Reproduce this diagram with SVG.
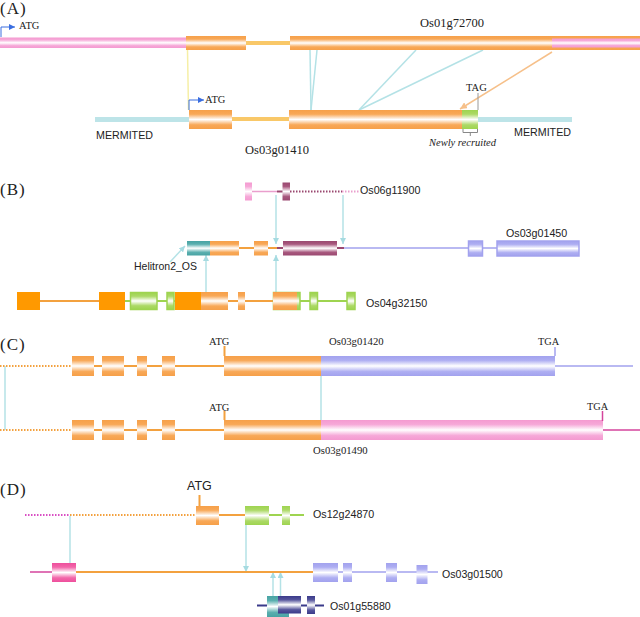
<svg xmlns="http://www.w3.org/2000/svg" width="640" height="617" viewBox="0 0 640 617">
<defs>
<linearGradient id="gOr" x1="0" y1="0" x2="0" y2="1"><stop offset="0" stop-color="#f6a049"/><stop offset="0.22" stop-color="#f8a857"/><stop offset="0.5" stop-color="#ffffff"/><stop offset="0.78" stop-color="#f8a857"/><stop offset="1" stop-color="#f6a049"/></linearGradient>
<linearGradient id="gPk" x1="0" y1="0" x2="0" y2="1"><stop offset="0" stop-color="#f49ad0"/><stop offset="0.22" stop-color="#f6a8d8"/><stop offset="0.5" stop-color="#ffffff"/><stop offset="0.78" stop-color="#f6a8d8"/><stop offset="1" stop-color="#f49ad0"/></linearGradient>
<linearGradient id="gLv" x1="0" y1="0" x2="0" y2="1"><stop offset="0" stop-color="#a2a2ee"/><stop offset="0.22" stop-color="#aeaef2"/><stop offset="0.5" stop-color="#ffffff"/><stop offset="0.78" stop-color="#aeaef2"/><stop offset="1" stop-color="#a2a2ee"/></linearGradient>
<linearGradient id="gMa" x1="0" y1="0" x2="0" y2="1"><stop offset="0" stop-color="#9a4870"/><stop offset="0.22" stop-color="#a8587e"/><stop offset="0.5" stop-color="#ffffff"/><stop offset="0.78" stop-color="#a8587e"/><stop offset="1" stop-color="#9a4870"/></linearGradient>
<linearGradient id="gTe" x1="0" y1="0" x2="0" y2="1"><stop offset="0" stop-color="#47a3a3"/><stop offset="0.22" stop-color="#5aafaf"/><stop offset="0.5" stop-color="#ffffff"/><stop offset="0.78" stop-color="#5aafaf"/><stop offset="1" stop-color="#47a3a3"/></linearGradient>
<linearGradient id="gGr" x1="0" y1="0" x2="0" y2="1"><stop offset="0" stop-color="#9ed450"/><stop offset="0.22" stop-color="#acd966"/><stop offset="0.5" stop-color="#ffffff"/><stop offset="0.78" stop-color="#acd966"/><stop offset="1" stop-color="#9ed450"/></linearGradient>
<linearGradient id="gNv" x1="0" y1="0" x2="0" y2="1"><stop offset="0" stop-color="#3a3a8a"/><stop offset="0.22" stop-color="#55559c"/><stop offset="0.5" stop-color="#ffffff"/><stop offset="0.78" stop-color="#55559c"/><stop offset="1" stop-color="#3a3a8a"/></linearGradient>
<linearGradient id="gHp" x1="0" y1="0" x2="0" y2="1"><stop offset="0" stop-color="#ee4f9c"/><stop offset="0.22" stop-color="#f267aa"/><stop offset="0.5" stop-color="#ffffff"/><stop offset="0.78" stop-color="#f267aa"/><stop offset="1" stop-color="#ee4f9c"/></linearGradient>
<marker id="arC" viewBox="0 0 10 10" refX="10" refY="5" markerWidth="6" markerHeight="6" markerUnits="userSpaceOnUse" orient="auto"><path d="M0,0 L10,5 L0,10 z" fill="#a6dbe1"/></marker>
<marker id="arB" viewBox="0 0 10 10" refX="10" refY="5" markerWidth="6" markerHeight="6" markerUnits="userSpaceOnUse" orient="auto"><path d="M0,0 L10,5 L0,10 z" fill="#3a6ee0"/></marker>
<marker id="arO" viewBox="0 0 10 10" refX="10" refY="5" markerWidth="7" markerHeight="7" markerUnits="userSpaceOnUse" orient="auto"><path d="M0,0 L10,5 L0,10 z" fill="#f6c08a"/></marker>
</defs>
<style>
.serif{font-family:"Liberation Serif","Times New Roman",serif;fill:#222}
.sans{font-family:"Liberation Sans",Arial,sans-serif;fill:#222}
.pl{font-family:"Liberation Serif","Times New Roman",serif;font-size:17px;letter-spacing:1px;fill:#222}
.con{stroke:#b4e2e6;stroke-width:1.5;fill:none}
.or{stroke:#f3a13f;stroke-width:2;fill:none}
.ordot{stroke:#f3a13f;stroke-width:2;stroke-dasharray:1.5 1.5;fill:none}
.lv{stroke:#a2a2ee;stroke-width:1.5;fill:none}
.gr{stroke:#9ed450;stroke-width:2;fill:none}
.ma{stroke:#9a4870;stroke-width:2;fill:none}
.nv{stroke:#3a3a8a;stroke-width:2;fill:none}
.mg{stroke:#d4449c;stroke-width:1.5;fill:none}
.mgdot{stroke:#d94fc4;stroke-width:2;stroke-dasharray:1.5 1.5;fill:none}
.mer{fill:#bde4e8}
.lvb{fill:url(#gLv);stroke:#a2a2ee;stroke-width:1.5}
.grb{fill:url(#gGr);stroke:#9ed450;stroke-width:1.5}
</style>

<g id="labels">
<text class="pl" x="0" y="14">(A)</text>
<text class="pl" x="0" y="195">(B)</text>
<text class="pl" x="0" y="350">(C)</text>
<text class="pl" x="0" y="495">(D)</text>
</g>

<g id="connectors">
<line x1="187.5" y1="50" x2="188.5" y2="110" stroke="#f6efa6" stroke-width="1.5"/>
<line class="con" x1="310" y1="50" x2="311" y2="110"/>
<line class="con" x1="317" y1="50" x2="311" y2="110"/>
<line class="con" x1="416" y1="50" x2="359" y2="110"/>
<line class="con" x1="483" y1="50" x2="359" y2="110"/>
<line x1="552" y1="52" x2="460" y2="109" stroke="#f6c08a" stroke-width="1.5" marker-end="url(#arO)"/>
<line x1="478" y1="93" x2="478" y2="110" stroke="#9a9a9a" stroke-width="1"/>
<line class="con" x1="170" y1="262" x2="185" y2="246" marker-end="url(#arC)"/>
<line class="con" x1="206" y1="292" x2="206" y2="255" marker-end="url(#arC)"/>
<line class="con" x1="276" y1="292" x2="276" y2="255" marker-end="url(#arC)"/>
<line class="con" x1="276" y1="195" x2="276" y2="244" marker-end="url(#arC)"/>
<line class="con" x1="343" y1="195" x2="343" y2="244" marker-end="url(#arC)"/>
<line class="con" x1="5" y1="366" x2="5" y2="430"/>
<line class="con" x1="321" y1="376" x2="321" y2="420"/>
<line class="con" x1="70" y1="516" x2="70" y2="563"/>
<line class="con" x1="246" y1="525" x2="246" y2="572" marker-end="url(#arC)"/>
<line class="con" x1="273" y1="596" x2="273" y2="572" marker-end="url(#arC)"/>
<line class="con" x1="280.5" y1="596" x2="280.5" y2="572" marker-end="url(#arC)"/>
</g>

<g id="Os01g72700">
<rect x="0" y="37.5" width="186" height="10.5" fill="url(#gPk)"/>
<rect x="186" y="36" width="60" height="14" fill="url(#gOr)"/>
<rect x="246" y="41" width="44" height="4" fill="#f9c868"/>
<rect x="290" y="36" width="350" height="14" fill="url(#gOr)"/>
<rect x="552" y="38.5" width="88" height="9" fill="url(#gPk)"/>
<path d="M1,37 V27 H15" stroke="#3a6ee0" stroke-width="1" fill="none" marker-end="url(#arB)"/>
<text class="serif" x="19" y="28.5" font-size="10.5">ATG</text>
<text class="serif" x="420" y="27" font-size="12.5">Os01g72700</text>
</g>

<g id="Os03g01410">
<rect class="mer" x="95" y="117" width="94" height="5"/>
<rect x="189" y="110" width="43" height="19" fill="url(#gOr)"/>
<rect x="232" y="117" width="57" height="4" fill="#f9c868"/>
<rect x="289" y="110" width="173" height="19" fill="url(#gOr)"/>
<rect x="462" y="110" width="16" height="19" fill="url(#gGr)"/>
<rect class="mer" x="478" y="117" width="94" height="5"/>
<path d="M189,110 V100 H204" stroke="#3a6ee0" stroke-width="1" fill="none" marker-end="url(#arB)"/>
<text class="serif" x="205" y="102.5" font-size="10.5">ATG</text>
<text class="sans" x="96" y="139" font-size="10.7">MERMITED</text>
<text class="sans" x="514" y="136" font-size="10.7">MERMITED</text>
<text class="serif" x="245" y="154" font-size="12.5">Os03g01410</text>
<text class="serif" x="466" y="90.7" font-size="10.5">TAG</text>
<path d="M463,129 V132.5 H477.5 V129 M470.3,132.5 V136" stroke="#888" stroke-width="1" fill="none"/>
<text class="serif" x="429" y="146" font-size="10.5" font-style="italic">Newly recruited</text>
</g>

<g id="Os06g11900">
<rect x="245" y="182.5" width="7" height="18" fill="url(#gPk)"/>
<line x1="252" y1="191.5" x2="277" y2="191.5" stroke="#ea9fcd" stroke-width="1.5"/>
<line class="ma" x1="277" y1="191.5" x2="283" y2="191.5"/>
<rect x="282.5" y="182.5" width="7.5" height="18" fill="url(#gMa)"/>
<line class="ma" x1="290" y1="191.5" x2="342" y2="191.5" stroke-dasharray="1.5 1.5"/>
<line x1="342" y1="191.5" x2="360" y2="191.5" stroke="#ea9fcd" stroke-width="2" stroke-dasharray="1.5 1.5"/>
<text class="sans" x="360" y="194" font-size="10.7">Os06g11900</text>
</g>

<g id="Os03g01450">
<rect x="187" y="241" width="23" height="14.5" fill="url(#gTe)"/>
<rect x="210" y="241" width="29" height="14.5" fill="url(#gOr)"/>
<line class="or" x1="239" y1="248" x2="254" y2="248"/>
<rect x="254" y="241" width="14" height="14.5" fill="url(#gOr)"/>
<line class="or" x1="268" y1="248" x2="277" y2="248"/>
<line class="ma" x1="277" y1="248" x2="283" y2="248"/>
<rect x="283" y="241" width="54" height="14.5" fill="url(#gMa)"/>
<line class="ma" x1="337" y1="248" x2="344" y2="248"/>
<line class="lv" x1="344" y1="248" x2="468" y2="248"/>
<rect class="lvb" x="468.5" y="241" width="14" height="15"/>
<line class="lv" x1="482.5" y1="248" x2="497" y2="248"/>
<rect class="lvb" x="497" y="241" width="82" height="15"/>
<text class="sans" x="506" y="236.5" font-size="10.7">Os03g01450</text>
<text class="sans" x="134" y="270" font-size="10.5">Helitron2_OS</text>
</g>

<g id="Os04g32150">
<line class="or" x1="40" y1="301" x2="130" y2="301"/>
<line class="gr" x1="125" y1="301" x2="175" y2="301"/>
<line class="or" x1="201" y1="301" x2="275" y2="301"/>
<line class="gr" x1="297" y1="301" x2="347" y2="301"/>
<rect x="17" y="292" width="23" height="18" fill="#ff9900"/>
<rect x="99" y="292" width="26" height="18" fill="#ff9900"/>
<rect class="grb" x="130.5" y="292.5" width="26.5" height="17"/>
<rect class="grb" x="167" y="292.5" width="7" height="17"/>
<rect x="175" y="292" width="26" height="18" fill="#ff9900"/>
<rect x="201" y="292" width="27" height="18" fill="url(#gOr)"/>
<rect x="238" y="292" width="7" height="18" fill="url(#gOr)"/>
<rect class="grb" x="273.5" y="292.5" width="26.5" height="17"/>
<rect x="273" y="292" width="24" height="18" fill="url(#gOr)"/>
<rect class="grb" x="310" y="292.5" width="7.5" height="17"/>
<rect class="grb" x="347" y="292.5" width="8" height="17"/>
<text class="sans" x="366" y="306.5" font-size="10.7">Os04g32150</text>
</g>

<g id="Os03g01420">
<line class="ordot" x1="0" y1="366" x2="72" y2="366"/>
<line class="or" x1="72" y1="366" x2="224" y2="366"/>
<rect x="72" y="356" width="22" height="20" fill="url(#gOr)"/>
<rect x="102" y="356" width="22" height="20" fill="url(#gOr)"/>
<rect x="137" y="356" width="10" height="20" fill="url(#gOr)"/>
<rect x="162" y="356" width="13" height="20" fill="url(#gOr)"/>
<rect x="224" y="356" width="97" height="20" fill="url(#gOr)"/>
<rect x="321" y="356" width="234" height="20" fill="url(#gLv)"/>
<line class="lv" x1="555" y1="366" x2="633" y2="366"/>
<line class="or" x1="224.5" y1="346" x2="224.5" y2="356" stroke-width="1.2"/>
<line class="lv" x1="555" y1="347" x2="555" y2="356" stroke-width="1.2"/>
<text class="serif" x="209" y="345" font-size="10.5">ATG</text>
<text class="serif" x="329" y="345" font-size="10.7">Os03g01420</text>
<text class="serif" x="538" y="345" font-size="10.3">TGA</text>
</g>

<g id="Os03g01490">
<line class="ordot" x1="0" y1="430" x2="72" y2="430"/>
<line class="or" x1="72" y1="430" x2="224" y2="430"/>
<rect x="72" y="420" width="22" height="20" fill="url(#gOr)"/>
<rect x="102" y="420" width="22" height="20" fill="url(#gOr)"/>
<rect x="137" y="420" width="10" height="20" fill="url(#gOr)"/>
<rect x="162" y="420" width="13" height="20" fill="url(#gOr)"/>
<rect x="224" y="420" width="97" height="20" fill="url(#gOr)"/>
<rect x="321" y="420" width="282" height="20" fill="url(#gPk)"/>
<line class="mg" x1="603" y1="430" x2="640" y2="430"/>
<line class="or" x1="224.5" y1="411" x2="224.5" y2="420" stroke-width="1.2"/>
<line class="mg" x1="602.5" y1="411" x2="602.5" y2="421" stroke-width="1.2"/>
<text class="serif" x="209" y="410.5" font-size="10.5">ATG</text>
<text class="serif" x="587" y="410" font-size="10.3">TGA</text>
<text class="serif" x="313" y="454" font-size="10.7">Os03g01490</text>
</g>

<g id="Os12g24870">
<line class="mgdot" x1="25" y1="515" x2="70" y2="515"/>
<line class="ordot" x1="70" y1="515" x2="196" y2="515"/>
<line class="or" x1="219" y1="515" x2="245" y2="515"/>
<line class="gr" x1="269" y1="515" x2="304" y2="515"/>
<rect x="196" y="506" width="23" height="19" fill="url(#gOr)"/>
<rect x="245" y="506" width="24" height="19" fill="url(#gGr)"/>
<rect x="282" y="506" width="8" height="19" fill="url(#gGr)"/>
<line class="or" x1="199.5" y1="495" x2="199.5" y2="506" stroke-width="1.2"/>
<text class="sans" x="187" y="490" font-size="12.5">ATG</text>
<text class="sans" x="313" y="518" font-size="10.7">Os12g24870</text>
</g>

<g id="Os03g01500">
<line class="mg" x1="30" y1="572" x2="52" y2="572"/>
<line class="or" x1="76" y1="572" x2="313" y2="572"/>
<line class="lv" x1="338" y1="572" x2="438" y2="572"/>
<rect x="52" y="563" width="24" height="19" fill="url(#gHp)"/>
<rect x="313" y="563" width="25" height="19" fill="url(#gLv)"/>
<rect x="343" y="563" width="9" height="19" fill="url(#gLv)"/>
<rect x="386" y="563" width="11" height="19" fill="url(#gLv)"/>
<rect x="416.5" y="565" width="11" height="19" fill="url(#gLv)"/>
<text class="sans" x="442" y="577.5" font-size="10.6">Os03g01500</text>
</g>

<g id="Os01g55880">
<line class="nv" x1="257" y1="605.5" x2="324" y2="605.5"/>
<rect x="267" y="596" width="22" height="21" fill="url(#gTe)"/>
<rect x="278" y="596" width="23" height="17.5" fill="url(#gNv)"/>
<rect x="307" y="596" width="8" height="18" fill="url(#gNv)"/>
<text class="sans" x="330" y="610" font-size="10.6">Os01g55880</text>
</g>
</svg>
